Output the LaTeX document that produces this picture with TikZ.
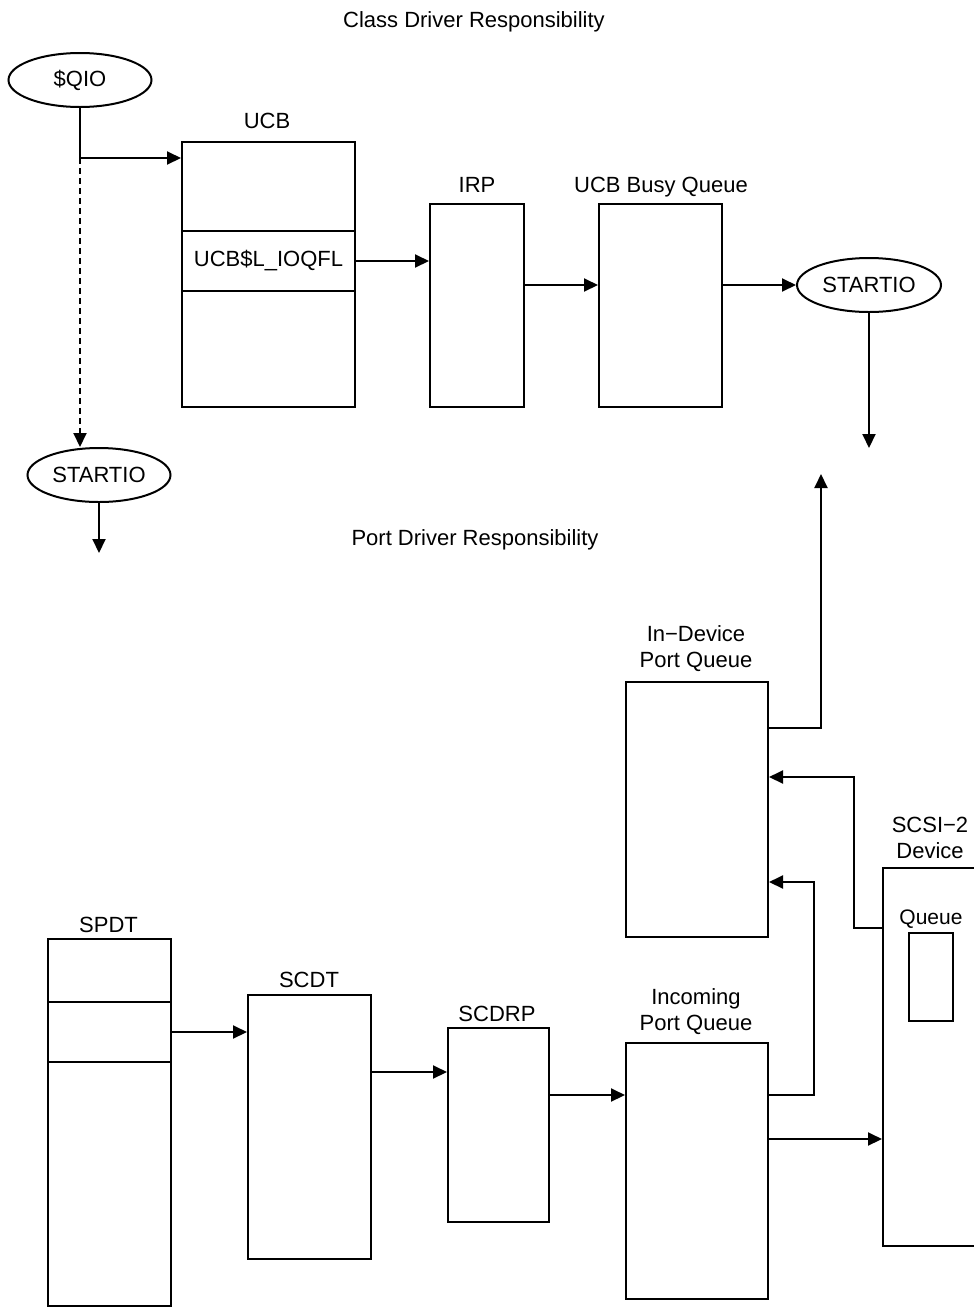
\documentclass[tikz,border=0pt]{standalone}
\usepackage{fontspec}
\setmainfont{Liberation Sans}
\usetikzlibrary{arrows.meta,shapes.geometric}

\tikzset{
  blk/.style={draw, line width=2pt, inner sep=0pt},
  oval/.style={draw, ellipse, line width=2pt, inner sep=0pt, minimum width=143pt, minimum height=54pt},
  wire/.style={line width=2pt},
  arr/.style={line width=2pt, -{Triangle[length=14pt,width=13pt]}},
  lbl/.style={anchor=base},
}

\begin{document}
\begin{tikzpicture}[x=1pt, y=-1pt, font=\fontsize{22pt}{26pt}\selectfont]
\useasboundingbox (0,0) rectangle (974,1307);
\clip (0,0) rectangle (974,1307);

% class driver half
\node[lbl] (classhd) at (474,27) {Class Driver Responsibility};
\node[oval] (qio) at (80,80) {\$QIO};
\node[lbl] at (267,128) {UCB};
\node[blk, minimum width=173pt, minimum height=265pt] (ucb) at (268.5,274.5) {};
\node[blk, minimum width=173pt, minimum height=60pt] (ioqfl) at (268.5,261) {UCB\$L\_IOQFL};
\node[lbl] at (477,192) {IRP};
\node[blk, minimum width=94pt, minimum height=203pt] (irp) at (477,305.5) {};
\node[lbl] at (661,192) {UCB Busy Queue};
\node[blk, minimum width=123pt, minimum height=203pt] (busy) at (660.5,305.5) {};
\node[oval, minimum width=144pt] (stB) at (869,285) {STARTIO};
\node[oval] (stA) at (99,475) {STARTIO};
\coordinate (split) at (80,158);
\coordinate (endA) at (99,553);
\coordinate (endB) at (869,448);

\draw[wire] (qio.south) -- (split);
\draw[arr] (split) -- (split -| ucb.west);
\draw[arr, dash pattern=on 6pt off 4pt] (split) -- (split |- stA.north);
\draw[arr] (stA.south) -- (endA);
\draw[arr] (ioqfl.east) -- (ioqfl.east -| irp.west);
\draw[arr] (irp.east |- stB) -- (busy.west |- stB);
\draw[arr] (busy.east |- stB) -- (stB.west);
\draw[arr] (stB.south) -- (endB);

% port driver half
\node[lbl] (porthd) at (475,545) {Port Driver Responsibility};
\node[align=center] at (696,649) {In−Device\\Port Queue};
\node[blk, minimum width=142pt, minimum height=255pt] (indev) at (697,809.5) {};
\coordinate (upB) at (821,474);
\node[align=center] at (930,838) {SCSI−2\\Device};
\node[blk, minimum width=117pt, minimum height=378pt] (scsi) at (941.5,1057) {};
\node[lbl, font=\fontsize{21pt}{24pt}\selectfont] at (931,924) {Queue};
\node[blk, minimum width=44pt, minimum height=88pt] (devq) at (931,977) {};
\node[lbl] at (108.5,932) {SPDT};
\node[blk, minimum width=123pt, minimum height=367pt] (spdt) at (109.5,1122.5) {};
\node[blk, minimum width=123pt, minimum height=60pt] (spdtf) at (109.5,1032) {};
\node[lbl] at (309,987) {SCDT};
\node[blk, minimum width=123pt, minimum height=264pt] (scdt) at (309.5,1127) {};
\node[lbl] at (497,1021) {SCDRP};
\node[blk, minimum width=101pt, minimum height=194pt] (scdrp) at (498.5,1125) {};
\node[align=center] at (696,1012) {Incoming\\Port Queue};
\node[blk, minimum width=142pt, minimum height=256pt] (incoming) at (697,1171) {};

\draw[arr] (indev.east |- 0,728) -| (upB);
\draw[arr] (scsi.west |- 0,928) -| (854,777) -- (indev.east |- 0,777);
\draw[arr] (incoming.east |- 0,1095) -| (814,882) -- (indev.east |- 0,882);
\draw[arr] (incoming.east |- 0,1139) -- (scsi.west |- 0,1139);
\draw[arr] (spdtf.east) -- (spdtf.east -| scdt.west);
\draw[arr] (scdt.east |- 0,1072) -- (scdrp.west |- 0,1072);
\draw[arr] (scdrp.east |- 0,1095) -- (incoming.west |- 0,1095);
\end{tikzpicture}
\end{document}
